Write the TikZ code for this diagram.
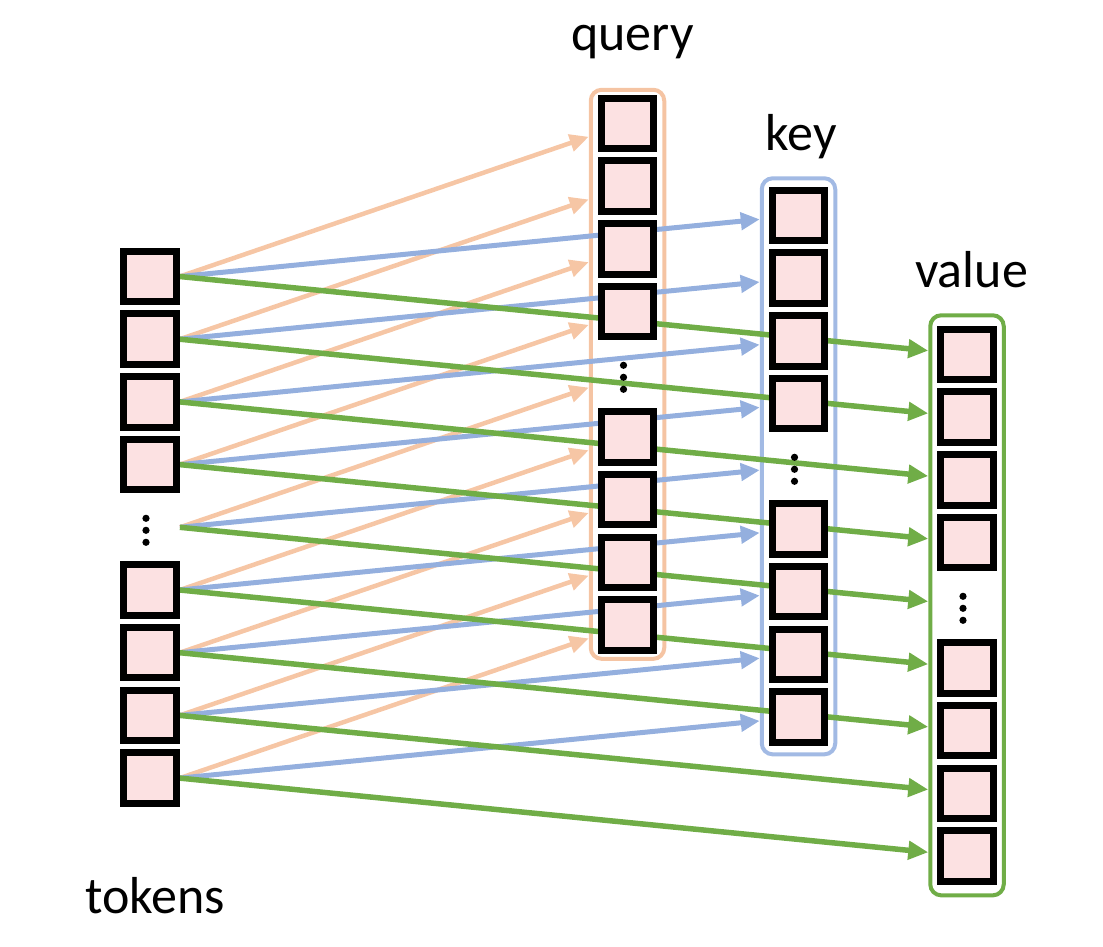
\documentclass[tikz,border=0pt]{standalone}
\usepackage{fontspec}
\setmainfont{Carlito}
\usetikzlibrary{arrows.meta,calc,fit}
\pgfdeclarelayer{background}
\pgfsetlayers{background,main}
\definecolor{cellpink}{HTML}{FCE1E2}
\definecolor{qcol}{HTML}{F6C6A5}
\definecolor{kcol}{HTML}{94AFDE}
\definecolor{vcol}{HTML}{70AD47}
\definecolor{qframecol}{HTML}{F5C4A3}
\definecolor{kframecol}{HTML}{A2BAE4}
\begin{document}
\begin{tikzpicture}[x=1pt,y=1pt,
  cell/.style={draw=black, line width=7pt, fill=cellpink, minimum width=52.5pt, minimum height=50.5pt, inner sep=0pt},
  dotslot/.style={minimum width=59.5pt, minimum height=57.5pt, inner sep=0pt},
  colframe/.style={line width=4pt, rounded corners=11pt, inner xsep=7pt},
  lbl/.style={anchor=base, inner sep=0pt, font=\fontsize{52}{60}\selectfont},
  qarrow/.style={draw=qcol, line width=4.5pt, -{Triangle[length=19pt,width=17pt]}},
  karrow/.style={draw=kcol, line width=5pt, -{Triangle[length=19pt,width=17pt]}},
  varrow/.style={draw=vcol, line width=5.5pt, -{Triangle[length=20pt,width=18pt]}}]
\useasboundingbox (0,0) rectangle (1103,-946);

% cells of the four columns
\foreach \c/\x/\y in {t/150/276.5, q/627.5/123.5, k/798.5/215.5, v/967/354.5}{
  \foreach \i in {0,...,8}{
    \pgfmathsetmacro\yy{-(\y+62.7*\i)}
    \ifnum\i=4
      \node[dotslot] (\c\i) at (\x,\yy) {};
    \else
      \node[cell] (\c\i) at (\x,\yy) {};
    \fi
  }
}

% vertical dots
\foreach \c in {t,q,k,v}{
  \foreach \d in {9,-3,-15}{
    \fill ([xshift=-4pt,yshift=\d pt]\c4.center) circle[radius=3.6pt];
  }
}

% labels
\node[lbl] (lq) at (632.5,-50) {query};
\node[lbl] (lk) at (801.5,-150) {key};
\node[lbl] (lv) at (971.5,-287) {value};
\node[lbl] (lt) at (155,-913) {tokens};

\begin{pgfonlayer}{background}
  \node[colframe, draw=qframecol, fit=(q0)(q8), inner ysep=5pt] (Q) {};
  \node[colframe, draw=kframecol, fit=(k0)(k8), inner ysep=8.5pt] (K) {};
  \node[colframe, draw=vcol, fit=(v0)(v8), inner ysep=10.5pt] (V) {};
  \foreach \i in {0,...,8}{
    \draw[qarrow] let \p1=(t\i.east), \p2=(q\i.center), \p3=(Q.west) in
      (\p1) -- (\x3, {\y1+(\y2-\y1)*((\x3-\x1)/(\x2-\x1))});
  }
  \foreach \i in {0,...,8}{
    \draw[karrow] let \p1=(t\i.east), \p2=(k\i.center), \p3=(K.west) in
      (\p1) -- (\x3, {\y1+(\y2-\y1)*((\x3-\x1)/(\x2-\x1))});
  }
  \foreach \i in {0,...,8}{
    \draw[varrow] let \p1=(t\i.east), \p2=(v\i.center), \p3=(V.west) in
      (\p1) -- (\x3, {\y1+(\y2-\y1)*((\x3-\x1)/(\x2-\x1))});
  }
\end{pgfonlayer}
\end{tikzpicture}
\end{document}
